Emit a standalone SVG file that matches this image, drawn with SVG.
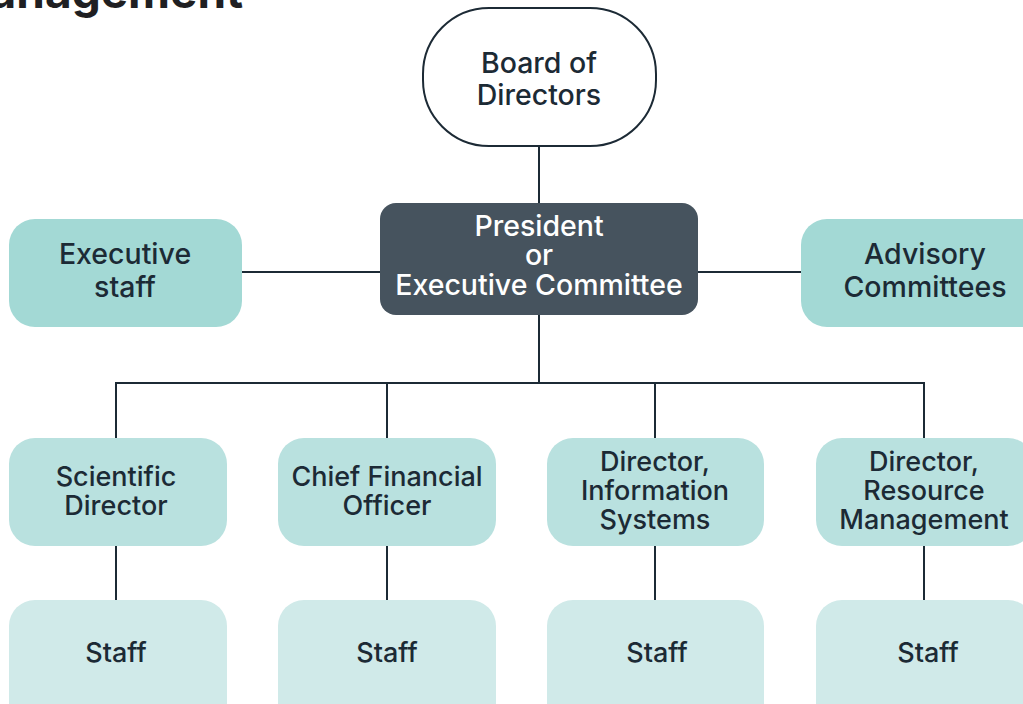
<svg xmlns="http://www.w3.org/2000/svg" width="1023" height="704" viewBox="0 0 1023 704">
<style>
  text { font-family: Inter, "Noto Sans", "Liberation Sans", sans-serif; font-size: 27px; font-weight: 500; fill: #1c2a35; text-anchor: middle; }
  .big { font-size: 28.5px; }
  .title { font-size: 46px; font-weight: 700; text-anchor: end; fill: #1f1f22; }
  .light { fill: #ffffff; }
  .conn { stroke: #1c2a35; stroke-width: 2; fill: none; }
  .side { fill: #a3d9d5; }
  .mid { fill: #b9e1df; }
  .staff { fill: #d0eae9; }
</style>
<rect width="1023" height="704" fill="#ffffff"/>
<text class="title" x="243" y="8">Management</text>
<g id="connectors">
  <line class="conn" x1="539" y1="146" x2="539" y2="204"/>
  <line class="conn" x1="241" y1="272" x2="381" y2="272"/>
  <line class="conn" x1="697" y1="272" x2="802" y2="272"/>
  <line class="conn" x1="539" y1="314" x2="539" y2="383"/>
  <polyline class="conn" points="116,439 116,383 924,383 924,439"/>
  <line class="conn" x1="387" y1="383" x2="387" y2="439"/>
  <line class="conn" x1="655" y1="383" x2="655" y2="439"/>
  <line class="conn" x1="116" y1="545" x2="116" y2="601"/>
  <line class="conn" x1="387" y1="545" x2="387" y2="601"/>
  <line class="conn" x1="655" y1="545" x2="655" y2="601"/>
  <line class="conn" x1="924" y1="545" x2="924" y2="601"/>
</g>
<g id="board">
  <rect x="423" y="8" width="233" height="138" rx="66" ry="66" fill="#ffffff" stroke="#1c2a35" stroke-width="2"/>
  <text class="big" x="539" y="73">Board of</text>
  <text class="big" x="539" y="105">Directors</text>
</g>
<g id="president">
  <rect x="380" y="203" width="318" height="112" rx="16" fill="#46535e"/>
  <text class="big light" x="539" y="236">President</text>
  <text class="big light" x="539" y="265">or</text>
  <text class="big light" x="539" y="295">Executive Committee</text>
</g>
<g id="executive-staff">
  <rect class="side" x="9" y="219" width="233" height="108" rx="26"/>
  <text class="big" x="125" y="264">Executive</text>
  <text class="big" x="125" y="297">staff</text>
</g>
<g id="advisory">
  <rect class="side" x="801" y="219" width="248" height="108" rx="26"/>
  <text class="big" x="925" y="264">Advisory</text>
  <text class="big" x="925" y="297">Committees</text>
</g>
<g id="scientific-director">
  <rect class="mid" x="9" y="438" width="218" height="108" rx="26"/>
  <text x="116" y="486">Scientific</text>
  <text x="116" y="515">Director</text>
</g>
<g id="cfo">
  <rect class="mid" x="278" y="438" width="218" height="108" rx="26"/>
  <text x="387" y="486">Chief Financial</text>
  <text x="387" y="515">Officer</text>
</g>
<g id="director-is">
  <rect class="mid" x="547" y="438" width="217" height="108" rx="26"/>
  <text x="655" y="471">Director,</text>
  <text x="655" y="500">Information</text>
  <text x="655" y="529">Systems</text>
</g>
<g id="director-rm">
  <rect class="mid" x="816" y="438" width="218" height="108" rx="26"/>
  <text x="924" y="471">Director,</text>
  <text x="924" y="500">Resource</text>
  <text x="924" y="529">Management</text>
</g>
<g id="staff-1">
  <rect class="staff" x="9" y="600" width="218" height="130" rx="26"/>
  <text x="116" y="662">Staff</text>
</g>
<g id="staff-2">
  <rect class="staff" x="278" y="600" width="218" height="130" rx="26"/>
  <text x="387" y="662">Staff</text>
</g>
<g id="staff-3">
  <rect class="staff" x="547" y="600" width="217" height="130" rx="26"/>
  <text x="657" y="662">Staff</text>
</g>
<g id="staff-4">
  <rect class="staff" x="816" y="600" width="218" height="130" rx="26"/>
  <text x="928" y="662">Staff</text>
</g>
</svg>
